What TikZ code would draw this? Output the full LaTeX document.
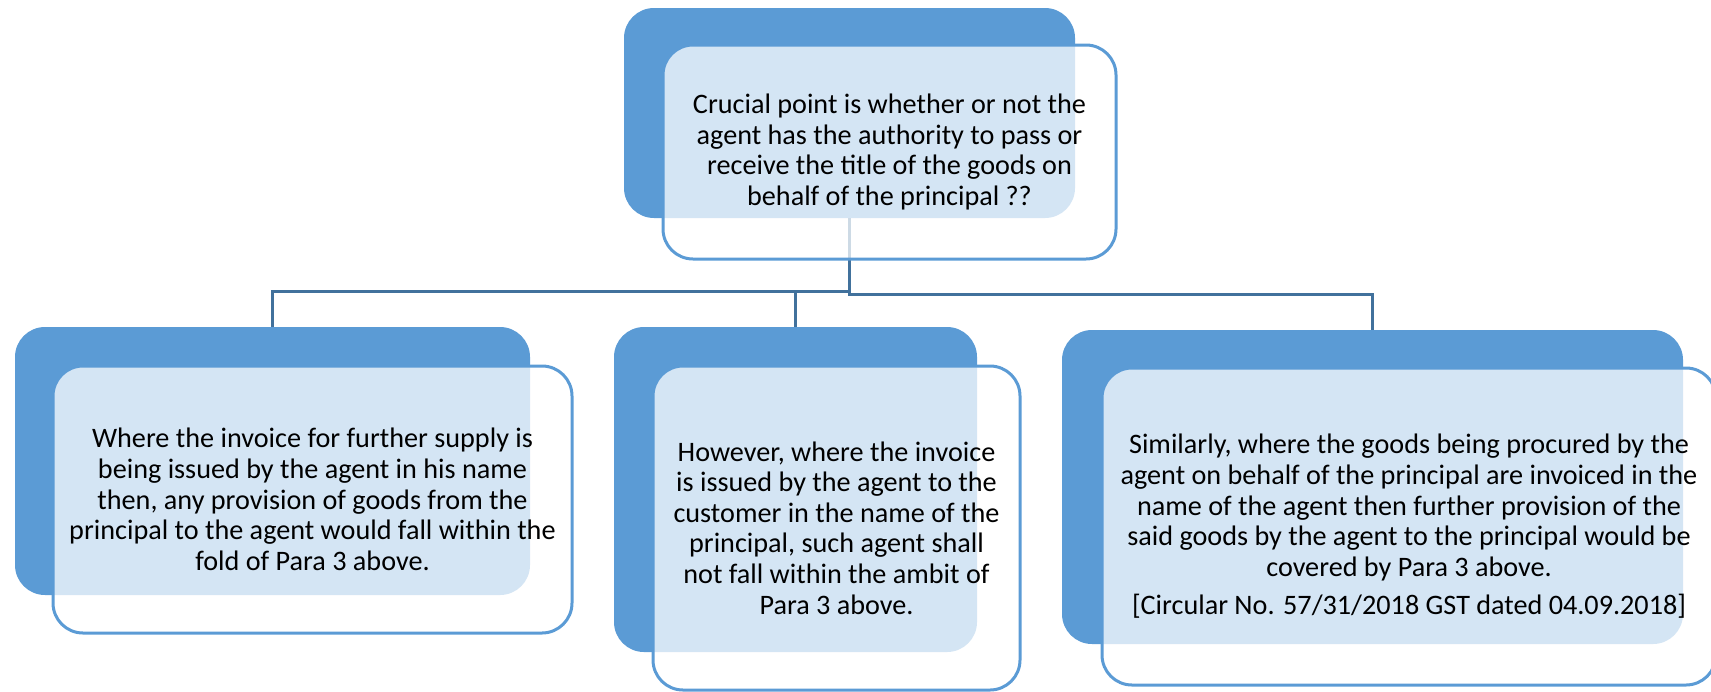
\documentclass[tikz,border=0pt]{standalone}
\usepackage{fontspec}
\setmainfont{Carlito}
\definecolor{boxblue}{HTML}{5B9BD5}
\definecolor{linkblue}{HTML}{41719C}
\tikzset{
  backbox/.style={draw=none, fill=boxblue, rounded corners=15pt, inner sep=0pt},
  frontbox/.style={draw=boxblue, line width=1.5pt, fill=white, fill opacity=0.74,
    text opacity=1, rounded corners=15pt, inner sep=0pt, align=center,
    font=\fontsize{14.1}{15.3}\selectfont},
  conn/.style={draw=linkblue, line width=1.5pt},
}
% node spanning the box (x1,y1)-(x2,y2): style, name, x1, y1, x2, y2
\newcommand\boxat[6]{%
  \node[#1, minimum width={(#5-#3)*0.5pt}, minimum height={(#6-#4)*0.5pt}]
    (#2) at ({(#3+#5)/2},{(#4+#6)/2})}
\begin{document}
\begin{tikzpicture}[x=0.5pt, y=-0.5pt]
\useasboundingbox (0,0) rectangle (1711,691);

% coloured back panels
\boxat{backbox}{tb}{624}{8}{1075}{218} {};
\boxat{backbox}{lb}{15}{327}{530}{595} {};
\boxat{backbox}{mb}{614}{327}{977}{652} {};
\boxat{backbox}{rb}{1062}{330}{1683}{644} {};

% hierarchy connectors
\draw[conn] (tb.south) -- ++(0,73) -| (lb.north);
\draw[conn] (tb.south) -- ++(0,73) -| (mb.north);
\draw[conn] (tb.south) -- ++(0,76) -| (rb.north);

% translucent text panels
\boxat{frontbox}{tf}{663}{45}{1116}{259}
  {Crucial point is whether or not the\\agent has the authority to pass or\\
   receive the title of the goods on\\behalf of the principal ??};
\boxat{frontbox}{lf}{53}{366}{572}{633}
  {Where the invoice for further supply is\\being issued by the agent in his name\\
   then, any provision of goods from the\\principal to the agent would fall within the\\
   fold of Para 3 above.};
\boxat{frontbox}{mf}{653}{366}{1020}{690}
  {However, where the invoice\\is issued by the agent to the\\customer in the name of the\\
   principal, such agent shall\\not fall within the ambit of\\Para 3 above.};
\boxat{frontbox}{rf}{1102}{368}{1716}{685}
  {Similarly, where the goods being procured by the\\agent on behalf of the principal are invoiced in the\\
   name of the agent then further provision of the\\said goods by the agent to the principal would be\\
   covered by Para 3 above.\\[4pt][Circular No. 57/31/2018 GST dated 04.09.2018]};
\end{tikzpicture}
\end{document}
